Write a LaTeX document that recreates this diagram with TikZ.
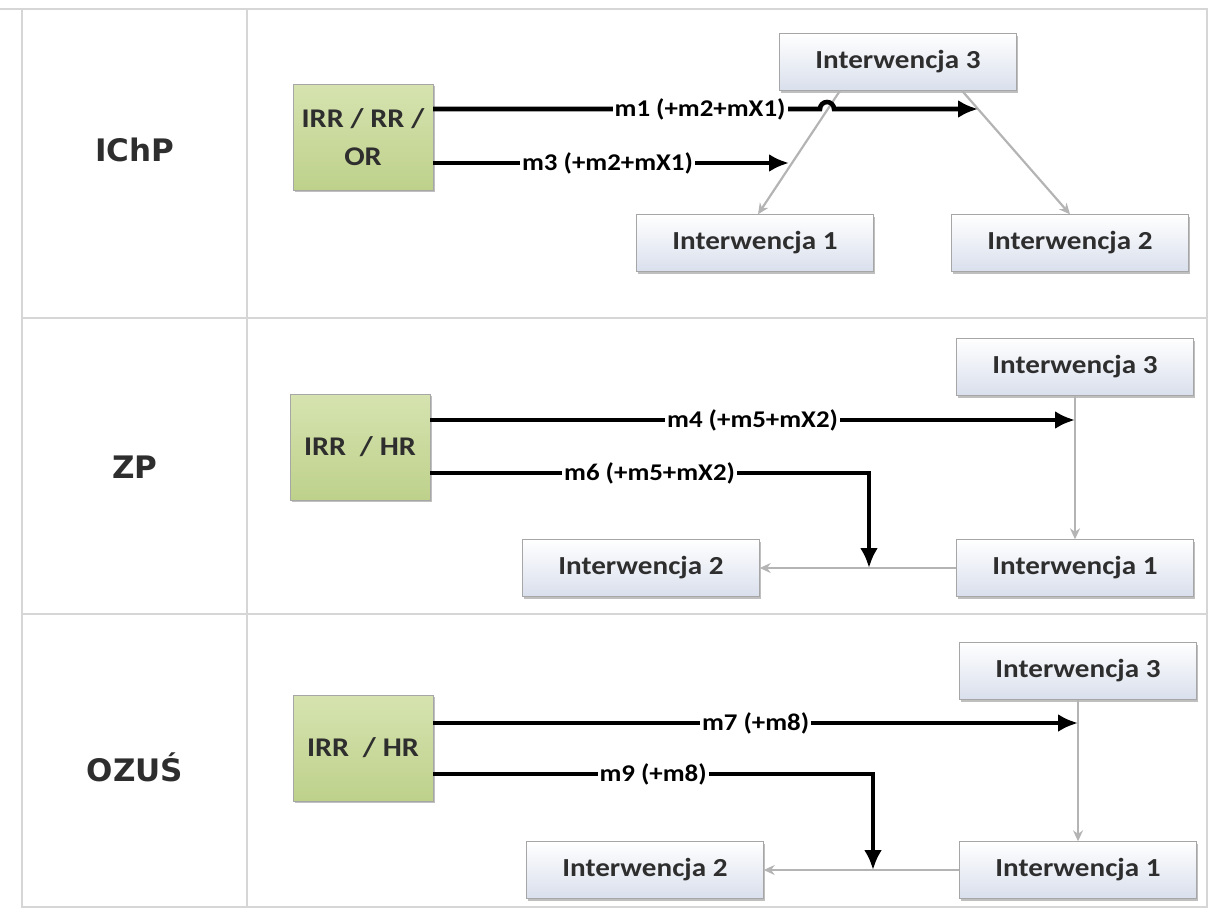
\documentclass[tikz,border=0pt]{standalone}
\usepackage{fontspec}
\setmainfont{Carlito}[FakeStretch=1.12]
\newfontfamily\rowfont{DejaVu Sans}
\usetikzlibrary{arrows.meta, shadows}

\definecolor{boxgray}{HTML}{A6A6A6}
\definecolor{intbot}{HTML}{D9DFEC}
\definecolor{grnA}{HTML}{D6E3B0}
\definecolor{grnB}{HTML}{BED18B}
\definecolor{txtgray}{HTML}{2E2E2E}
\definecolor{lnkgray}{HTML}{B4B4B4}
\definecolor{framegray}{HTML}{D6D6D6}

\begin{document}
\begin{tikzpicture}[x=1pt, y=-1pt,
      interw/.style={draw=boxgray, top color=white, bottom color=intbot,
                  minimum width=237pt, minimum height=57pt, text=txtgray,
                  font=\fontsize{26}{30}\selectfont\bfseries,
                  drop shadow={shadow xshift=1.5pt, shadow yshift=-2pt, fill=black!50}},
      src/.style={draw=boxgray, top color=grnA, bottom color=grnB, align=center,
                  minimum width=140pt, minimum height=106pt, text=txtgray,
                  font=\fontsize{27}{38}\selectfont\bfseries,
                  drop shadow={shadow xshift=1.5pt, shadow yshift=-2pt, fill=black!50}},
      rowlbl/.style={font=\rowfont\bfseries\fontsize{31}{36}\selectfont, text=txtgray},
      frame/.style={draw=framegray, line width=2pt},
      main/.style={line width=4.6pt, -{Latex[length=20pt, width=18pt]}},
      link/.style={line width=2.2pt, draw=lnkgray, -{Stealth[open, length=11pt, width=10pt]}},
      lbl/.style={fill=white, inner sep=2pt, text=black, font=\fontsize{24}{27}\selectfont\bfseries}]

    \useasboundingbox (0,0) rectangle (1209,913);

    % === table ===
    \draw[frame] (22,9) rectangle (1207,907);
    \draw[frame] (0,9) -- (22,9);
    \draw[frame] (22,318) -- (1207,318);
    \draw[frame] (22,614) -- (1207,614);
    \draw[frame] (247,9) -- (247,907);

    \node[rowlbl] (row1) at (135,150) {IChP};
    \node[rowlbl] (row2) at (135,467) {ZP};
    \node[rowlbl] (row3) at (135,767) {OZUŚ};

    % === IChP ===
    \node[src] (src1) at (363,137) {IRR / RR /\\OR};
    \node[interw] (i3a) at (898,62) {Interwencja 3};
    \node[interw] (i1a) at (755,243) {Interwencja 1};
    \node[interw] (i2a) at (1070,243) {Interwencja 2};
    \draw[link] ([xshift=-58pt]i3a.south) -- ([xshift=3pt]i1a.north);
    \draw[link] ([xshift=64pt]i3a.south) -- (i2a.north);
    \coordinate (hop1) at (820,109);
    \coordinate (t1) at (978,109);
    \coordinate (t3) at (789,163);
    \draw[main] ([yshift=28pt]src1.east) -- node[lbl, pos=.69] {m1 (+m2+mX1)} (hop1)
        arc[start angle=180, end angle=0, radius=7pt] -- (t1);
    \draw[main] ([yshift=-26pt]src1.east) -- node[lbl, pos=.49] {m3 (+m2+mX1)} (t3);

    % === ZP ===
    \node[src] (src2) at (360,447) {IRR~~/ HR};
    \node[interw] (i3b) at (1075,367) {Interwencja 3};
    \node[interw] (i1b) at (1075,568) {Interwencja 1};
    \node[interw] (i2b) at (641,568) {Interwencja 2};
    \draw[link] (i3b.south) -- (i1b.north);
    \draw[link] (i1b.west) -- (i2b.east);
    \coordinate (t4) at (1075,420);
    \coordinate (t6) at (869,568);
    \draw[main] ([yshift=27pt]src2.east) -- node[lbl] {m4 (+m5+mX2)} (t4);
    \draw[main] ([yshift=-26pt]src2.east) -| node[lbl, pos=.25] {m6 (+m5+mX2)} (t6);

    % === OZUS ===
    \node[src] (src3) at (363,748) {IRR~~/ HR};
    \node[interw] (i3c) at (1078,671) {Interwencja 3};
    \node[interw] (i1c) at (1078,870) {Interwencja 1};
    \node[interw] (i2c) at (645,870) {Interwencja 2};
    \draw[link] (i3c.south) -- (i1c.north);
    \draw[link] (i1c.west) -- (i2c.east);
    \coordinate (t7) at (1078,723);
    \coordinate (t9) at (873,870);
    \draw[main] ([yshift=25pt]src3.east) -- node[lbl] {m7 (+m8)} (t7);
    \draw[main] ([yshift=-26pt]src3.east) -| node[lbl, pos=.25] {m9 (+m8)} (t9);

\end{tikzpicture}
\end{document}
